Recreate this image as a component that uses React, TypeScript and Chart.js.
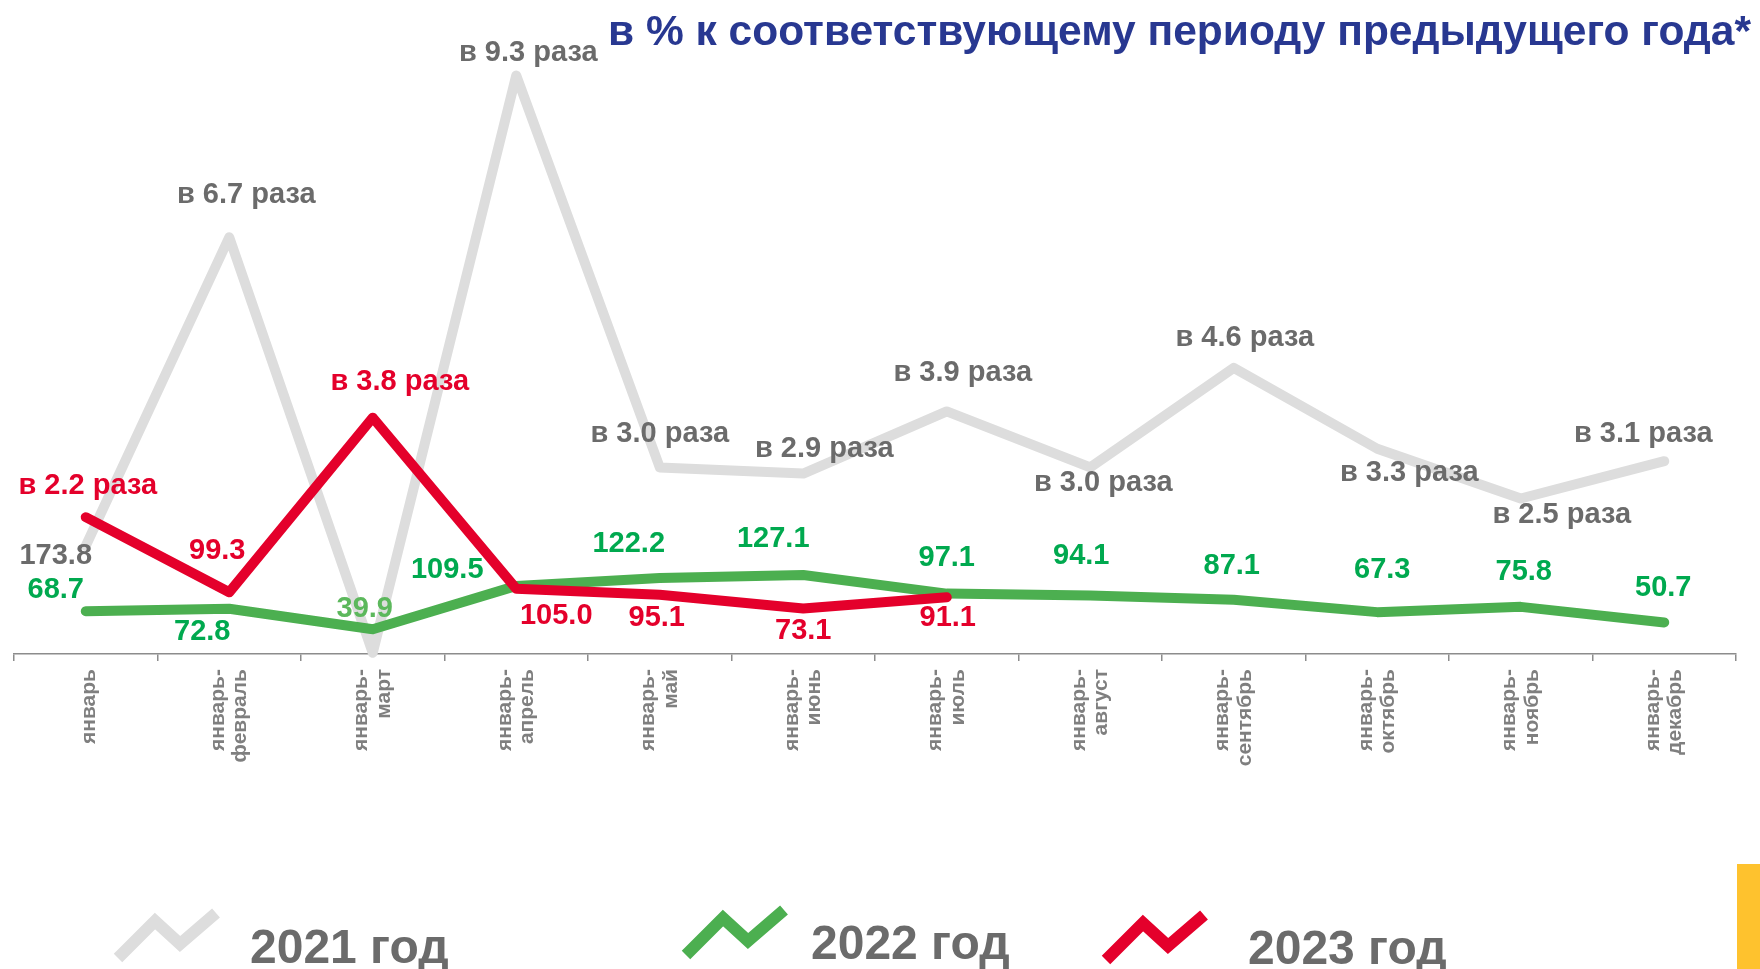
import React, { useEffect, useRef } from 'react';
import { Chart, registerables } from 'chart.js';

Chart.register(...registerables);

// ---------- data ----------
const categories: (string | string[])[] = [
  'январь',
  ['январь-', 'февраль'],
  ['январь-', 'март'],
  ['январь-', 'апрель'],
  ['январь-', 'май'],
  ['январь-', 'июнь'],
  ['январь-', 'июль'],
  ['январь-', 'август'],
  ['январь-', 'сентябрь'],
  ['январь-', 'октябрь'],
  ['январь-', 'ноябрь'],
  ['январь-', 'декабрь'],
];

const values2021 = [173.8, 670, 2, 930, 300, 290, 390, 300, 460, 330, 250, 310];
const values2022 = [68.7, 72.8, 39.9, 109.5, 122.2, 127.1, 97.1, 94.1, 87.1, 67.3, 75.8, 50.7];
const values2023 = [220, 99.3, 380, 105.0, 95.1, 73.1, 91.1];

const labels2021 = ['173.8', 'в 6.7 раза', '', 'в 9.3 раза', 'в 3.0 раза', 'в 2.9 раза', 'в 3.9 раза', 'в 3.0 раза', 'в 4.6 раза', 'в 3.3 раза', 'в 2.5 раза', 'в 3.1 раза'];
const labels2022 = ['68.7', '72.8', '39.9', '109.5', '122.2', '127.1', '97.1', '94.1', '87.1', '67.3', '75.8', '50.7'];
const labels2023 = ['в 2.2 раза', '99.3', 'в 3.8 раза', '105.0', '95.1', '73.1', '91.1'];

const seriesNames = ['2021 год', '2022 год', '2023 год'];
const titleText = 'в % к соответствующему периоду предыдущего года*';

// ---------- label placement (offsets from point, px) ----------
const offsets2021 = [[-30, 10], [17, -42], [0, 0], [12, -23], [0, -33], [21, -25], [16, -38], [13, 16], [11, -30], [32, 24], [41, 16], [-21, -27]];
const offsets2022 = [[-30, -21], [-27, 23], [-8, -20], [-69, -16], [-31, -34], [-30, -36], [0, -36], [-9, -39], [-2, -34], [5, -42], [3, -35], [-1, -34]];
const offsets2023 = [[2, -31], [-12, -41], [27, -36], [40, 27], [-3, 23], [0, 22], [1, 21]];

const FONT = '"Liberation Sans", Arial, Helvetica, sans-serif';
const GRAY_LINE = '#dddddd';
const GREEN_LINE = '#4caf50';
const RED_LINE = '#e4002b';
const GRAY_TEXT = '#6b6b6b';
const GREEN_TEXT = '#00a94f';
const GREEN_TEXT_LIGHT = '#5cb85c';
const RED_TEXT = '#e4002b';
const greenLabelColors = [GREEN_TEXT, GREEN_TEXT, GREEN_TEXT_LIGHT, GREEN_TEXT, GREEN_TEXT, GREEN_TEXT, GREEN_TEXT, GREEN_TEXT, GREEN_TEXT, GREEN_TEXT, GREEN_TEXT, GREEN_TEXT];

const TICK_SIZE = 21;
const TICK_LH = 1.08;

const pointLabelPlugin = {
  id: 'pointLabels',
  afterDatasetsDraw(chart: any) {
    const ctx = chart.ctx;
    chart.data.datasets.forEach((ds: any, di: number) => {
      const meta = chart.getDatasetMeta(di);
      ctx.save();
      ctx.font = `bold 29px ${FONT}`;
      ctx.textAlign = 'center';
      ctx.textBaseline = 'middle';
      meta.data.forEach((pt: any, i: number) => {
        const t = ds.pointLabels[i];
        if (!t) return;
        const [dx, dy] = ds.labelOffsets[i];
        ctx.fillStyle = Array.isArray(ds.labelColor) ? ds.labelColor[i] : ds.labelColor;
        ctx.fillText(t, pt.x + dx, pt.y + dy);
      });
      ctx.restore();
    });
  },
};

// centre multi-line rotated tick labels on their category
const centerTicksPlugin = {
  id: 'centerTicks',
  beforeDraw(chart: any) {
    try {
      const scale = chart.scales.x;
      const items = scale._computeLabelItems(chart.chartArea);
      const lh = TICK_SIZE * TICK_LH;
      items.forEach((it: any) => {
        if (Array.isArray(it.label) && it.label.length > 1 && it.options && it.options.translation) {
          it.options.translation[0] -= (lh * (it.label.length - 1)) / 2;
        } else if (it.options && it.options.translation) {
          it.options.translation[0] += 3;
        }
      });
      scale._labelItems = items;
    } catch (e) {
      /* ignore */
    }
  },
};

const decorPlugin = {
  id: 'decor',
  afterDraw(chart: any) {
    const ctx = chart.ctx;
    ctx.save();
    // title
    ctx.font = `bold 42.5px ${FONT}`;
    ctx.fillStyle = '#283891';
    ctx.textAlign = 'right';
    ctx.textBaseline = 'alphabetic';
    ctx.fillText(titleText, 1751, 45);

    // legend
    const items = [
      { color: GRAY_LINE, ix: 118, iy: 958, tx: 250, ty: 963 },
      { color: GREEN_LINE, ix: 686, iy: 955, tx: 811, ty: 959 },
      { color: RED_LINE, ix: 1106, iy: 960, tx: 1248, ty: 964 },
    ];
    items.forEach((it, k) => {
      ctx.beginPath();
      ctx.moveTo(it.ix, it.iy);
      ctx.lineTo(it.ix + 37, it.iy - 37);
      ctx.lineTo(it.ix + 62, it.iy - 14);
      ctx.lineTo(it.ix + 98, it.iy - 45);
      ctx.strokeStyle = it.color;
      ctx.lineWidth = 12;
      ctx.lineJoin = 'miter';
      ctx.lineCap = 'butt';
      ctx.stroke();
      ctx.font = `bold 48px ${FONT}`;
      ctx.fillStyle = GRAY_TEXT;
      ctx.textAlign = 'left';
      ctx.fillText(seriesNames[k], it.tx, it.ty);
    });

    // yellow corner bar
    ctx.fillStyle = '#fec22e';
    ctx.fillRect(1737, 864, 23, 105);
    ctx.restore();
  },
};

export default function App() {
  const canvasRef = useRef<HTMLCanvasElement | null>(null);

  useEffect(() => {
    if (!canvasRef.current) return;
    const chart = new Chart(canvasRef.current, {
      type: 'line',
      data: {
        labels: categories as any,
        datasets: [
          {
            label: seriesNames[0],
            data: values2021,
            borderColor: GRAY_LINE,
            borderWidth: 10,
            pointRadius: 0,
            tension: 0,
            borderCapStyle: 'round',
            borderJoinStyle: 'round',
            order: 3,
            clip: 12,
            labelColor: GRAY_TEXT,
            pointLabels: labels2021,
            labelOffsets: offsets2021,
          } as any,
          {
            label: seriesNames[1],
            data: values2022,
            borderColor: GREEN_LINE,
            borderWidth: 10,
            pointRadius: 0,
            tension: 0,
            borderCapStyle: 'round',
            borderJoinStyle: 'round',
            order: 2,
            labelColor: greenLabelColors,
            pointLabels: labels2022,
            labelOffsets: offsets2022,
          } as any,
          {
            label: seriesNames[2],
            data: values2023,
            borderColor: RED_LINE,
            borderWidth: 10,
            pointRadius: 0,
            tension: 0,
            borderCapStyle: 'round',
            borderJoinStyle: 'round',
            order: 1,
            labelColor: RED_TEXT,
            pointLabels: labels2023,
            labelOffsets: offsets2023,
          } as any,
        ],
      },
      options: {
        animation: false,
        responsive: true,
        maintainAspectRatio: false,
        layout: { padding: { left: 14, right: 24, top: 32, bottom: 0 } },
        plugins: {
          legend: { display: false },
          title: { display: false },
          tooltip: { enabled: false },
        },
        scales: {
          x: {
            offset: true,
            grid: {
              display: true,
              offset: true,
              drawOnChartArea: false,
              drawTicks: true,
              tickLength: 7,
              color: '#8c8c8c',
              lineWidth: 1.5,
            },
            border: { display: true, color: '#8c8c8c', width: 1.5 },
            ticks: {
              autoSkip: false,
              maxRotation: 90,
              minRotation: 90,
              padding: 8,
              color: '#7f7f7f',
              font: { family: FONT, size: TICK_SIZE, weight: 'bold', lineHeight: TICK_LH },
            },
            afterFit: (scale: any) => {
              scale.height = 315;
            },
          },
          y: {
            display: false,
            min: 0,
            max: 1000,
          },
        },
      },
      plugins: [pointLabelPlugin, centerTicksPlugin, decorPlugin],
    });
    return () => chart.destroy();
  }, []);

  return (
    <div style={{ position: 'absolute', left: 0, top: 0, width: 1760, height: 969, background: '#ffffff' }}>
      <canvas ref={canvasRef} />
    </div>
  );
}
